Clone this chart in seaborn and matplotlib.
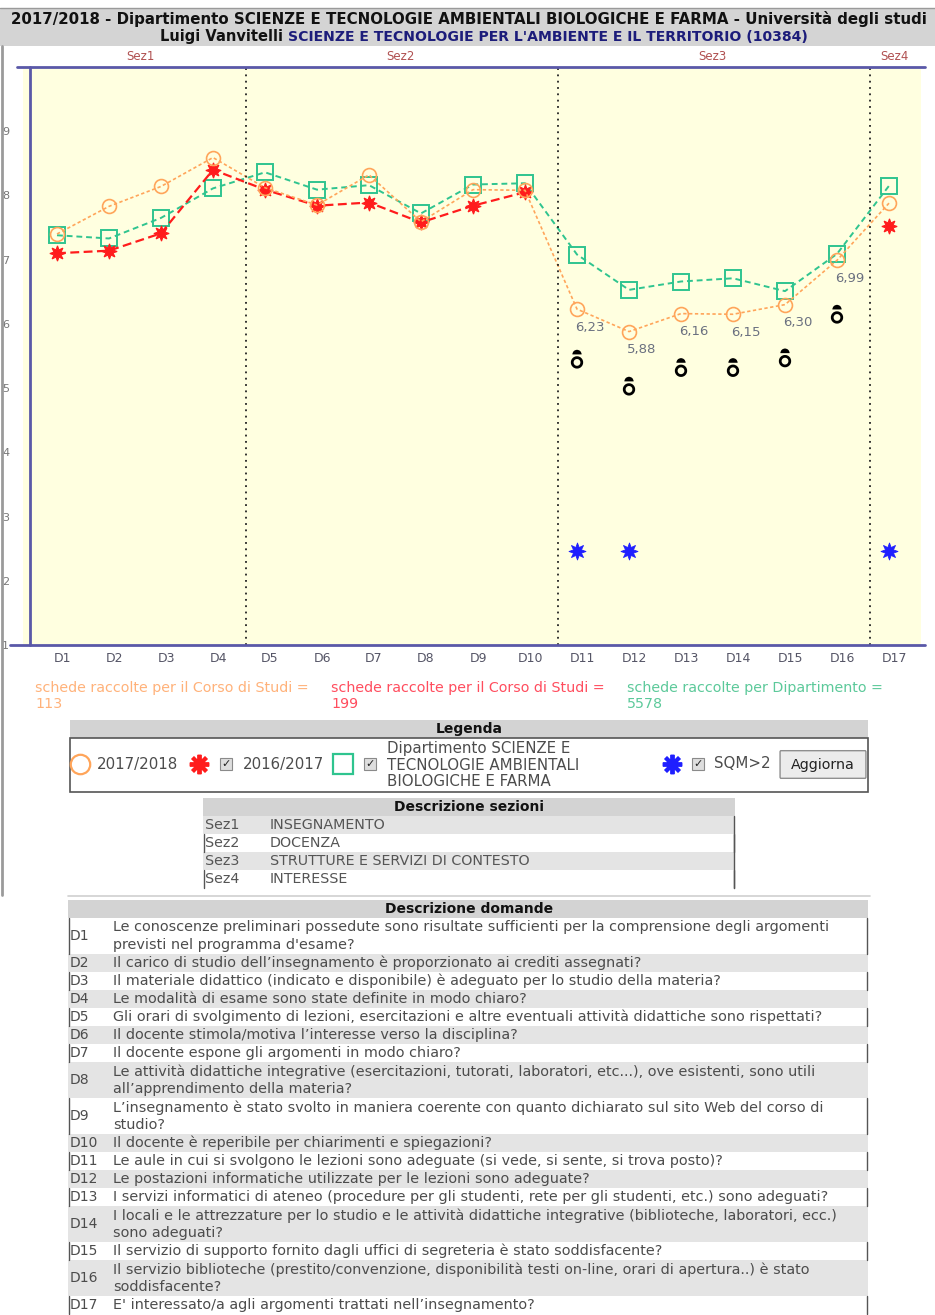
import numpy as np
import pandas as pd
import matplotlib
matplotlib.use("Agg")
import matplotlib.pyplot as plt
import seaborn as sns
from matplotlib.patches import Rectangle, FancyBboxPatch, Wedge
from matplotlib.lines import Line2D
from matplotlib.path import Path
from matplotlib.transforms import ScaledTranslation

# ---------------------------------------------------------------- data
questions = ["D%d" % i for i in range(1, 18)]
val_2018 = [7.40, 7.83, 8.14, 8.59, 8.12, 7.85, 8.32, 7.59, 8.09, 8.08,
            6.23, 5.88, 6.16, 6.15, 6.30, 6.99, 7.88]
val_2017 = [7.10, 7.14, 7.41, 8.40, 8.09, 7.84, 7.89, 7.58, 7.84, 8.05,
            np.nan, np.nan, np.nan, np.nan, np.nan, np.nan, 7.52]
val_dip = [7.38, 7.33, 7.65, 8.11, 8.36, 8.09, 8.16, 7.72, 8.17, 8.19,
           7.08, 6.53, 6.66, 6.71, 6.51, 7.09, 8.15]
warn_q = ["D11", "D12", "D13", "D14", "D15", "D16"]
warn_val = [5.40, 4.98, 5.27, 5.27, 5.42, 6.10]
sqm_q = ["D11", "D12", "D17"]
sqm_val = [2.46, 2.46, 2.46]

sez_names = ["Sez1", "Sez2", "Sez3", "Sez4"]
sez_first = ["D1", "D5", "D11", "D17"]
sez_desc = ["INSEGNAMENTO", "DOCENZA", "STRUTTURE E SERVIZI DI CONTESTO", "INTERESSE"]

schede_text = ["schede raccolte per il Corso di Studi =\n113",
               "schede raccolte per il Corso di Studi =\n199",
               "schede raccolte per Dipartimento =\n5578"]

q_desc = [
    "Le conoscenze preliminari possedute sono risultate sufficienti per la comprensione degli argomenti\nprevisti nel programma d'esame?",
    "Il carico di studio dell\u2019insegnamento è proporzionato ai crediti assegnati?",
    "Il materiale didattico (indicato e disponibile) è adeguato per lo studio della materia?",
    "Le modalità di esame sono state definite in modo chiaro?",
    "Gli orari di svolgimento di lezioni, esercitazioni e altre eventuali attività didattiche sono rispettati?",
    "Il docente stimola/motiva l\u2019interesse verso la disciplina?",
    "Il docente espone gli argomenti in modo chiaro?",
    "Le attività didattiche integrative (esercitazioni, tutorati, laboratori, etc...), ove esistenti, sono utili\nall\u2019apprendimento della materia?",
    "L\u2019insegnamento è stato svolto in maniera coerente con quanto dichiarato sul sito Web del corso di\nstudio?",
    "Il docente è reperibile per chiarimenti e spiegazioni?",
    "Le aule in cui si svolgono le lezioni sono adeguate (si vede, si sente, si trova posto)?",
    "Le postazioni informatiche utilizzate per le lezioni sono adeguate?",
    "I servizi informatici di ateneo (procedure per gli studenti, rete per gli studenti, etc.) sono adeguati?",
    "I locali e le attrezzature per lo studio e le attività didattiche integrative (biblioteche, laboratori, ecc.)\nsono adeguati?",
    "Il servizio di supporto fornito dagli uffici di segreteria è stato soddisfacente?",
    "Il servizio biblioteche (prestito/convenzione, disponibilità testi on-line, orari di apertura..) è stato\nsoddisfacente?",
    "E' interessato/a agli argomenti trattati nell\u2019insegnamento?",
]

ORANGE = "#ffa55a"
RED = "#ff1c1c"
GREEN = "#2fc48f"
BLUE = "#1f1fff"
GREY_TXT = "#4c4c4c"

# ---------------------------------------------------------------- figure helpers
sns.set_theme(style="white")
plt.rcParams["font.family"] = ["DejaVu Sans"]

W, H = 935, 1315
fig = plt.figure(figsize=(W / 100, H / 100), dpi=100)


def fx(x):
    return x / W


def fy(y):
    return 1 - y / H


def ptext(x, y, s, **kw):
    kw.setdefault("va", "center")
    kw.setdefault("fontsize", 9)
    kw.setdefault("color", GREY_TXT)
    return fig.text(fx(x), fy(y), s, **kw)


def prect(x0, y0, x1, y1, **kw):
    r = Rectangle((fx(x0), fy(y1)), (x1 - x0) / W, (y1 - y0) / H,
                  transform=fig.transFigure, **kw)
    fig.add_artist(r)
    return r


def pline(xs, ys, **kw):
    fig.add_artist(Line2D([fx(x) for x in xs], [fy(y) for y in ys],
                          transform=fig.transFigure, **kw))


def checkbox(x, y):
    prect(x - 6, y - 6, x + 6, y + 6, fc="#dedede", ec="#8a8a8a", lw=0.8)
    ptext(x, y, "\u2713", ha="center", fontsize=8, fontweight="bold", color="#222222")


# ---------------------------------------------------------------- header band
pline([0, W], [8, 8], color="#9a9a9a", lw=1)
prect(0, 8, W, 46, fc="#d4d4d4", ec="none")
ptext(469, 19, "2017/2018 - Dipartimento SCIENZE E TECNOLOGIE AMBIENTALI BIOLOGICHE E FARMA - Università degli studi",
      ha="center", fontsize=10.8, fontweight="bold", color="#111111")
renderer = fig.canvas.get_renderer()
t1 = ptext(160, 37, "Luigi Vanvitelli ", ha="left", fontsize=10.5, fontweight="bold", color="#111111")
bb = t1.get_window_extent(renderer=renderer)
fig.text(bb.x1 / fig.bbox.width, fy(37), "SCIENZE E TECNOLOGIE PER L'AMBIENTE E IL TERRITORIO (10384)",
         va="center", ha="left", fontsize=10.1, fontweight="bold", color="#1c1c7a")
pline([1.5, 1.5], [46, 895], color="#9a9a9a", lw=2)

# ---------------------------------------------------------------- main chart
x_left, x_right, y_top, y_bot = 23, 921, 67, 645
x0_px, step_px = 57, 52
ax = fig.add_axes([fx(x_left), fy(y_bot), (x_right - x_left) / W, (y_bot - y_top) / H])
ax.set_facecolor("#ffffe0")

pos = {q: i for i, q in enumerate(questions)}
frames = []
for name, vals in [("2017/2018", val_2018), ("2016/2017", val_2017), ("dip", val_dip)]:
    v = np.array(vals, dtype=float)
    seg = np.cumsum(np.isnan(v))
    d = pd.DataFrame({"pos": np.arange(len(v)), "val": v, "seg": seg, "serie": name})
    frames.append(d.dropna())
df = pd.concat(frames, ignore_index=True)

sns.lineplot(data=df[df.serie == "dip"], x="pos", y="val", units="seg", estimator=None, sort=False,
             ax=ax, color=GREEN, lw=1.4, linestyle=(0, (3, 2)),
             marker="s", markersize=11, markerfacecolor="none",
             markeredgecolor=GREEN, markeredgewidth=1.4)
sns.lineplot(data=df[df.serie == "2016/2017"], x="pos", y="val", units="seg", estimator=None, sort=False,
             ax=ax, color=RED, lw=1.6, linestyle=(0, (4, 2)),
             marker=(8, 1, 0), markersize=11, markerfacecolor=RED,
             markeredgecolor=RED, markeredgewidth=0.8)
sns.lineplot(data=df[df.serie == "2017/2018"], x="pos", y="val", units="seg", estimator=None, sort=False,
             ax=ax, color=ORANGE, lw=1.2, linestyle=(0, (2, 1.5)),
             marker="o", markersize=10, markerfacecolor="none",
             markeredgecolor=ORANGE, markeredgewidth=1.2)

# value labels for low scores
for i, v in enumerate(val_2018):
    if v < 7:
        ax.annotate(("%.2f" % v).replace(".", ","), (i, v), xytext=(13, -18),
                    textcoords="offset pixels", ha="center", va="center",
                    fontsize=9.5, color="#6a7080")

# warning glyph: ring with a small dome on top
ring = Wedge((0, 0), 1.0, 0, 360, width=0.45).get_path()
dome = Wedge((0, 1.3), 0.75, 0, 180).get_path()
warn_marker = Path.make_compound_path(ring, dome)
sns.scatterplot(x=[pos[q] for q in warn_q], y=warn_val, marker=warn_marker, s=330,
                color="black", edgecolor="none", ax=ax)
sns.scatterplot(x=[pos[q] for q in sqm_q], y=sqm_val, marker=(8, 1, 0), s=150,
                color=BLUE, edgecolor=BLUE, linewidth=0.6, ax=ax)

# section separators and labels
sez_start = [pos[q] for q in sez_first] + [len(questions)]
for k, name in enumerate(sez_names):
    a, b = sez_start[k], sez_start[k + 1] - 1
    ax.text((a + b) / 2 + 0.1, 1.018, name, transform=ax.get_xaxis_transform(),
            ha="center", va="center", fontsize=8.5, color="#b05050")
    if k > 0:
        ax.axvline(a - 0.37, color="#222222", lw=1.3, linestyle=(0, (1, 2.5)))

ax.set_xlim((x_left - x0_px) / step_px, (x_right - x0_px) / step_px)
ax.set_ylim(1, 10)
ax.set_xticks(range(len(questions)))
ax.set_xticklabels(questions)
ax.set_yticks(range(1, 10))
ax.tick_params(axis="both", length=0, labelsize=9, colors="#555566")
ax.tick_params(axis="y", pad=10, labelsize=8, colors="#777777")
ax.tick_params(axis="x", pad=5)
for lab in ax.get_xticklabels():
    lab.set_transform(lab.get_transform() + ScaledTranslation(5 / 100, 0, fig.dpi_scale_trans))
ax.set_xlabel("")
ax.set_ylabel("")
for s in ax.spines.values():
    s.set_visible(False)
ax.grid(False)

# axis frame lines
pline([17, 925], [y_top, y_top], color="#5a58a8", lw=2)
pline([10, 925], [y_bot, y_bot], color="#5a58a8", lw=2)
pline([30, 30], [y_top, y_bot], color="#5a58a8", lw=2)

# ---------------------------------------------------------------- schede counts
for (x, c), s in zip([(35, "#ffb27a"), (331, "#ff4d5e"), (627, "#5cc99a")], schede_text):
    ptext(x, 696, s, ha="left", fontsize=10.3, color=c, linespacing=1.25)

# ---------------------------------------------------------------- legend box
prect(70, 720, 868, 738, fc="#d3d3d3", ec="none")
ptext(469, 729, "Legenda", ha="center", fontsize=10, fontweight="bold", color="#111111")
prect(70, 738, 868, 792, fc="white", ec="#555555", lw=1.2)
fig.add_artist(Line2D([fx(80)], [fy(764)], marker="o", ms=14, mfc="none", mec=ORANGE, mew=1.6,
                      transform=fig.transFigure))
ptext(97, 764, "2017/2018", ha="left", fontsize=10.8)
fig.add_artist(Line2D([fx(199)], [fy(764)], marker=(8, 2, 0), ms=14, mec=RED, mew=2.8,
                      transform=fig.transFigure))
checkbox(226, 764)
ptext(243, 764, "2016/2017", ha="left", fontsize=10.8)
fig.add_artist(Line2D([fx(343)], [fy(764)], marker="s", ms=15, mfc="none", mec=GREEN, mew=1.6,
                      transform=fig.transFigure))
checkbox(370, 764)
ptext(387, 765, "Dipartimento SCIENZE E\nTECNOLOGIE AMBIENTALI\nBIOLOGICHE E FARMA", ha="left",
      fontsize=10.8, linespacing=1.15)
fig.add_artist(Line2D([fx(672)], [fy(764)], marker=(8, 2, 0), ms=14, mec=BLUE, mew=2.8,
                      transform=fig.transFigure))
checkbox(698, 764)
ptext(714, 764, "SQM>2", ha="left", fontsize=10.8)
fig.add_artist(FancyBboxPatch((fx(781), fy(777)), (865 - 781) / W, (777 - 752) / H,
                              boxstyle="round,pad=0.001", transform=fig.transFigure,
                              fc="#ececec", ec="#8f8f8f", lw=1))
ptext(823, 765, "Aggiorna", ha="center", fontsize=10.3, color="#222222")

# ---------------------------------------------------------------- sections table
prect(203, 798, 735, 816, fc="#d3d3d3", ec="none")
ptext(469, 807, "Descrizione sezioni", ha="center", fontsize=10, fontweight="bold", color="#111111")
for k, (code, desc) in enumerate(zip(sez_names, sez_desc)):
    y0 = 816 + 18 * k
    if k % 2 == 0:
        prect(203, y0, 735, y0 + 18, fc="#e4e4e4", ec="none")
    else:
        pline([204, 204], [y0, y0 + 18], color="#555555", lw=1)
        pline([734, 734], [y0, y0 + 18], color="#555555", lw=1)
    ptext(205, y0 + 9, code, ha="left", fontsize=10.3, color="#555555")
    ptext(270, y0 + 9, desc, ha="left", fontsize=10.3, color="#555555")
pline([734, 734], [816, 888], color="#555555", lw=1)

pline([68, 870], [896, 896], color="#cfcfcf", lw=1.2)

# ---------------------------------------------------------------- questions table
prect(68, 900, 868, 918, fc="#d3d3d3", ec="none")
ptext(469, 909, "Descrizione domande", ha="center", fontsize=10, fontweight="bold", color="#111111")
y0 = 918
for k, (code, desc) in enumerate(zip(questions, q_desc)):
    h = 18 * (desc.count("\n") + 1)
    if k % 2 == 1:
        prect(68, y0, 868, y0 + h, fc="#e4e4e4", ec="none")
    else:
        pline([69, 69], [y0, y0 + h], color="#555555", lw=1)
        pline([867, 867], [y0, y0 + h], color="#555555", lw=1)
    ptext(70, y0 + h / 2, code, ha="left", fontsize=10, color=GREY_TXT)
    ptext(113, y0 + h / 2, desc, ha="left", fontsize=10.4, color=GREY_TXT, linespacing=1.3)
    y0 += h

fig.savefig("out.png", dpi=100)
